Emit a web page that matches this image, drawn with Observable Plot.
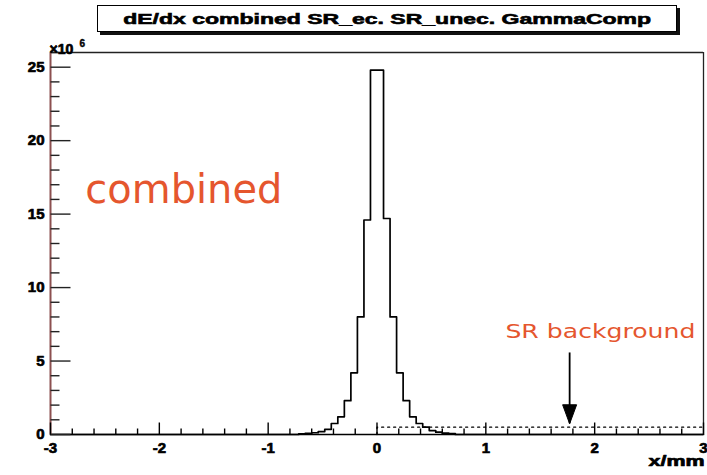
<!DOCTYPE html>
<html><head><meta charset="utf-8">
<script src="https://cdn.jsdelivr.net/npm/d3@7"></script>
<script src="https://cdn.jsdelivr.net/npm/@observablehq/plot@0.6"></script>
<style>
html,body{margin:0;padding:0;background:#fff;}
#wrap{position:relative;width:707px;height:475px;overflow:hidden;font-family:"Liberation Sans",Arial,sans-serif;}
#chart{position:absolute;left:0;top:0;}
#title{position:absolute;left:97px;top:5px;width:578px;height:25px;border:1px solid #000;background:#fff;box-shadow:3px 3px 0 #111;display:flex;align-items:center;justify-content:center;overflow:visible;}
#title span{font-weight:bold;font-size:15px;white-space:nowrap;display:inline-block;color:#000;-webkit-text-stroke:0.6px #000;}
</style>
</head><body>
<div id="wrap"><div id="chart"></div><div id="title"><span id="ttext">dE/dx combined SR_ec. SR_unec. GammaComp</span></div></div>
<script>
// ---- data (values in units of 10^6) ----
const titleText = "dE/dx combined SR_ec. SR_unec. GammaComp";
const binEdges = [-0.72,-0.66,-0.60,-0.54,-0.48,-0.42,-0.36,-0.30,-0.24,-0.18,-0.12,-0.06,0,
                  0.06,0.12,0.18,0.24,0.30,0.36,0.42,0.48,0.54,0.60,0.66,0.72];
const counts = [0.05,0.08,0.12,0.2,0.35,0.75,1.2,2.3,4.2,8.0,14.6,24.8,
                24.8,14.7,8.0,4.2,2.3,1.2,0.75,0.5,0.27,0.16,0.1,0.06];
const bgEdges = [0, 3];
const bgValues = [0.5];
const xTickValues = [-3,-2,-1,0,1,2,3];
const xTickLabels = ["-3","-2","-1","0","1","2","3"];
const yTickValues = [0,5,10,15,20,25];
const yTickLabels = ["0","5","10","15","20","25"];
const xMinorValues = d3.range(-30, 31, 2).map(v => v/10).filter(v => !xTickValues.includes(v));
const yMinorValues = d3.range(0, 27).filter(v => v % 5 !== 0);
const annCombined = {x: -2.68, y: 16.6, text: "combined"};
const annSR = {x: 1.18, y: 7.0, text: "SR background"};
const arrowX = 1.77, arrowTop = 5.55, arrowTip = 0.73;

// ---- derived tables ----
const histLine = [{x: -3, y: 0}];
binEdges.forEach((e, i) => histLine.push({x: e, y: i < counts.length ? counts[i] : 0}));
histLine.push({x: 3, y: 0});
const bgLine = [{x: bgEdges[0], y: 0}];
bgEdges.forEach((e, i) => bgLine.push({x: e, y: i < bgValues.length ? bgValues[i] : bgValues[bgValues.length-1]}));

const tickUp = L => ({draw(ctx){ctx.moveTo(0,0);ctx.lineTo(0,-L);}});
const tickRight = L => ({draw(ctx){ctx.moveTo(0,0);ctx.lineTo(L,0);}});
const triDown = {draw(ctx){ctx.moveTo(0,0);ctx.lineTo(-7,-19);ctx.lineTo(7,-19);ctx.closePath();}};

const F = "Liberation Sans, Arial, sans-serif";
const orange = "#e5562e";
const lbl = {fontWeight: "bold", fontFamily: F, fill: "#000", stroke: "#000", strokeWidth: 0.7};

const chart = Plot.plot({
  width: 707, height: 475,
  marginLeft: 50, marginRight: 4, marginTop: 52, marginBottom: 41,
  x: {domain: [-3, 3], axis: null},
  y: {domain: [0, 26], axis: null},
  style: {background: "transparent", overflow: "visible"},
  marks: [
    // frame
    Plot.ruleY([26], {stroke: "#222", strokeWidth: 1.3}),
    Plot.ruleX([3], {stroke: "#222", strokeWidth: 1.3}),
    // background (dotted)
    Plot.line(bgLine, {x: "x", y: "y", curve: "step-after", stroke: "#000", strokeWidth: 1.3, strokeDasharray: "2,4"}),
    // histogram
    Plot.line(histLine, {x: "x", y: "y", curve: "step-after", stroke: "#000", strokeWidth: 1.7}),
    // axes
    Plot.ruleY([0], {stroke: "#000", strokeWidth: 1.6}),
    Plot.ruleX([-3], {stroke: "#8c5050", strokeWidth: 2}),
    Plot.dot(xTickValues, {x: d => d, y: 0, symbol: tickUp(12), fill: "none", stroke: "#000", strokeWidth: 1.4}),
    Plot.dot(xMinorValues, {x: d => d, y: 0, symbol: tickUp(6), fill: "none", stroke: "#000", strokeWidth: 1.4}),
    Plot.dot(yTickValues, {x: -3, y: d => d, symbol: tickRight(20), fill: "none", stroke: "#222", strokeWidth: 1.4}),
    Plot.dot(yMinorValues, {x: -3, y: d => d, symbol: tickRight(9), fill: "none", stroke: "#222", strokeWidth: 1.4}),
    Plot.text(xTickValues, {x: d => d, y: 0, dy: 14, text: (d, i) => xTickLabels[i], fontSize: 15, ...lbl}),
    Plot.text(yTickValues, {x: -3, y: d => d, dx: -6, text: (d, i) => yTickLabels[i], textAnchor: "end", fontSize: 15, ...lbl}),
    Plot.text(["×10"], {frameAnchor: "top-left", dx: -1, dy: -8, textAnchor: "start", fontSize: 14, ...lbl}),
    Plot.text(["6"], {frameAnchor: "top-left", dx: 29, dy: -13, textAnchor: "start", fontSize: 10, ...lbl, strokeWidth: 0.4}),
    Plot.text(["x/mm"], {frameAnchor: "bottom-right", dx: 1, dy: 31, textAnchor: "end", fontSize: 15, ...lbl}),
    // annotations
    Plot.text([annCombined], {x: "x", y: "y", text: "text", textAnchor: "start", fontSize: 40, fontFamily: "DejaVu Sans, Verdana, sans-serif", fill: orange}),
    Plot.text([annSR], {x: "x", y: "y", text: "text", textAnchor: "start", fontSize: 20, fontFamily: "DejaVu Sans, Verdana, sans-serif", fill: orange}),
    Plot.ruleX([arrowX], {y1: arrowTop, y2: arrowTip, stroke: "#000", strokeWidth: 1.8}),
    Plot.dot([arrowX], {x: d => d, y: arrowTip, symbol: triDown, fill: "#000", stroke: "#000", strokeWidth: 1})
  ]
});
document.getElementById("chart").appendChild(chart);

// stretch wide bitmap-like texts
const stretch = {"x/mm": 56, "SR background": 190, "combined": 197};
d3.select(chart).selectAll("text").each(function(){
  const t = this.textContent;
  if (stretch[t]) d3.select(this).attr("textLength", stretch[t]).attr("lengthAdjust", "spacingAndGlyphs");
});
const sp = document.getElementById("ttext");
sp.textContent = titleText;
const w = sp.getBoundingClientRect().width;
sp.style.transform = `scaleX(${528 / w})`;
</script>
</body></html>
